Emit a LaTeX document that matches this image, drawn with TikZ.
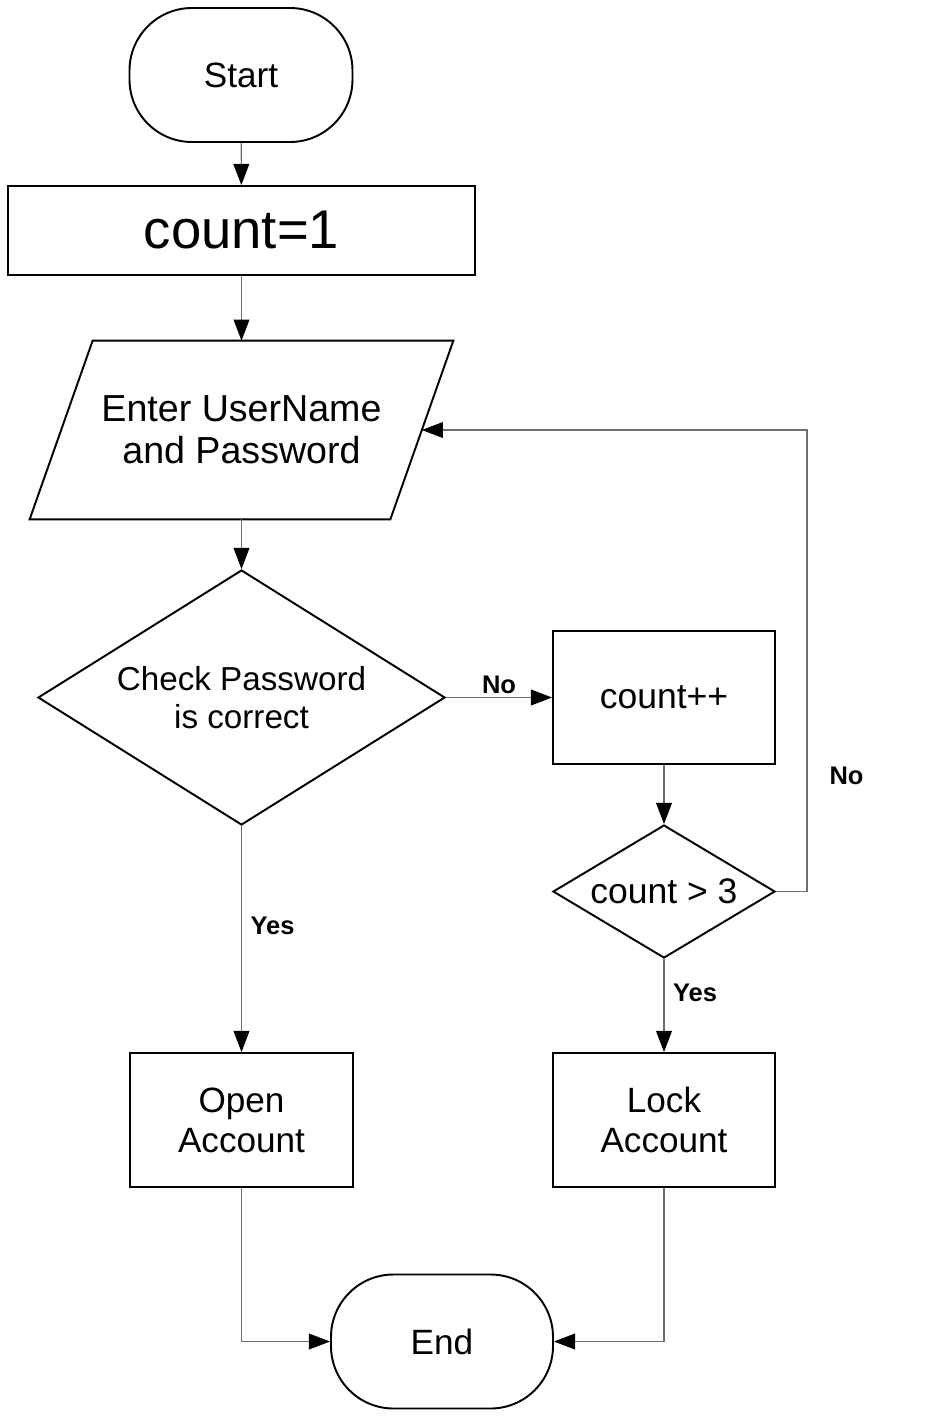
\documentclass[tikz,border=0pt]{standalone}
\usepackage{fontspec}
\setmainfont{Liberation Sans}
\usetikzlibrary{arrows.meta}
\usetikzlibrary{shapes.geometric}

\definecolor{linegray}{RGB}{110,110,110}

\tikzset{
    terminal/.style={draw, line width=1.1pt, rectangle, rounded corners=1.25cm,
        minimum width=4.46cm, minimum height=2.68cm, align=center},
    process/.style={draw, line width=1.1pt, rectangle,
        minimum width=4.44cm, minimum height=2.68cm, align=center},
    decision/.style={draw, line width=1.1pt, diamond, inner sep=0pt, align=center},
    conn/.style={draw=linegray, line width=0.6pt,
        -{Triangle[length=12pt,width=9pt,color=black]}},
    lbl/.style={font=\fontsize{14.5}{17}\selectfont\bfseries, inner sep=2pt}
}

\begin{document}
\begin{tikzpicture}
    \useasboundingbox (0,0) rectangle (18.88,-28.34);

    % Terminals
    \node[terminal, font=\fontsize{20}{24}\selectfont] (start) at (4.82,-1.50) {Start};
    \node[terminal, font=\fontsize{20}{24}\selectfont, minimum width=4.44cm] (stop) at (8.84,-26.83) {End};

    % Processes
    \node[process, minimum width=9.34cm, minimum height=1.78cm,
        font=\fontsize{31}{36}\selectfont] (init) at (4.83,-4.61) {count=1};
    \node[process, minimum height=2.66cm, font=\fontsize{20.2}{24}\selectfont] (incr) at (13.28,-13.95) {count++};
    \node[process, font=\fontsize{20}{22.8}\selectfont, minimum width=4.46cm] (open) at (4.83,-22.40) {Open\\Account};
    \node[process, font=\fontsize{20}{22.8}\selectfont] (lock) at (13.28,-22.40) {Lock\\Account};

    % Input (parallelogram round the text box)
    \node[minimum width=7.2cm, minimum height=3.56cm, align=center,
        font=\fontsize{21.4}{24}\selectfont] (input) at (4.83,-8.60) {Enter UserName\\and Password};
    \draw[line width=1.1pt] ([xshift=0.63cm]input.north west) -- ([xshift=0.63cm]input.north east)
        -- ([xshift=-0.63cm]input.south east) -- ([xshift=-0.63cm]input.south west) -- cycle;

    % Decisions
    \node[decision, minimum width=8.14cm, minimum height=5.10cm, shape aspect=1.6,
        font=\fontsize{18.9}{22}\selectfont] (check) at (4.83,-13.95) {Check Password\\is correct};
    \node[decision, minimum width=4.44cm, minimum height=2.66cm, shape aspect=1.67,
        font=\fontsize{20.2}{24}\selectfont] (limit) at (13.28,-17.83) {count > 3};

    % Lines
    \draw[conn] (start) -- (init);
    \draw[conn] (init) -- (input);
    \draw[conn] (input) -- (check);
    \draw[conn] (check.east) -- node[lbl, above] (no1) {No} (incr.west);
    \draw[conn] (incr) -- (limit);
    \draw[conn] (limit.east) -- ++(0.62,0) |- node[lbl, right=0.37cm, pos=0.125] (no2) {No} (input.east);
    \draw[conn] (check.south) -- node[lbl, right=0.1cm, pos=0.44] (yes1) {Yes} (open.north);
    \draw[conn] (limit.south) -- node[lbl, right=0.1cm, pos=0.36] (yes2) {Yes} (lock.north);
    \draw[conn] (open.south) |- (stop.west);
    \draw[conn] (lock.south) |- (stop.east);
\end{tikzpicture}
\end{document}
